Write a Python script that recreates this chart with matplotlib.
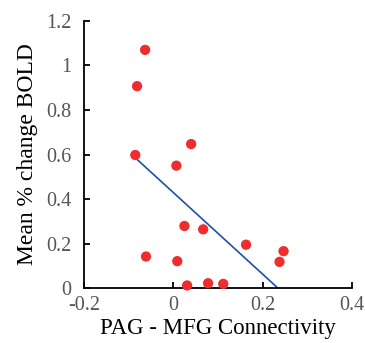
import numpy as np
import matplotlib
matplotlib.use("Agg")
from matplotlib import pyplot as plt

# PAG - MFG connectivity vs mean % change BOLD
connectivity = [-0.063, -0.081, -0.085, 0.007, 0.040, -0.061, 0.009, 0.025,
                0.067, 0.163, 0.247, 0.238, 0.031, 0.078, 0.112]
bold_change = [1.07, 0.907, 0.598, 0.55, 0.647, 0.142, 0.121, 0.279,
               0.264, 0.195, 0.166, 0.118, 0.012, 0.022, 0.019]
xticks = [-0.2, 0, 0.2, 0.4]
yticks = [0, 0.2, 0.4, 0.6, 0.8, 1.0, 1.2]

plt.rcParams['font.family'] = ['Liberation Serif', 'DejaVu Serif']

fig = plt.figure(figsize=(3.65, 3.43), dpi=100)
ax = fig.add_axes([0.230, 0.160, 0.734, 0.779])

x = np.array(connectivity)
y = np.array(bold_change)
slope, icpt = np.polyfit(x, y, 1)
xl = np.array([x.min(), x.max()])
ax.plot(xl, slope * xl + icpt, color='#1f4fa8', lw=1.2, zorder=2)
ax.scatter(x, y, s=55, color='#ee2e2e', edgecolors='none', zorder=3, clip_on=False)

ax.set_xlim(-0.2, 0.4)
ax.set_ylim(0, 1.2)
ax.set_xticks(xticks)
ax.set_xticklabels(['-0.2', '0', '0.2', '0.4'])
ax.set_yticks(yticks)
ax.set_yticklabels(['0', '0.2', '0.4', '0.6', '0.8', '1', '1.2'])
ax.tick_params(direction='in', length=4, width=1.3, labelsize=14.5, labelcolor='#555555')
ax.tick_params(axis='y', pad=9)
ax.tick_params(axis='x', pad=6)
for s in ['top', 'right']:
    ax.spines[s].set_visible(False)
for s in ['left', 'bottom']:
    ax.spines[s].set_linewidth(1.3)

ax.set_xlabel('PAG - MFG Connectivity', fontsize=16.5, labelpad=2)
ax.set_ylabel('Mean % change BOLD', fontsize=17, labelpad=6)

fig.savefig('out.png', dpi=100)
